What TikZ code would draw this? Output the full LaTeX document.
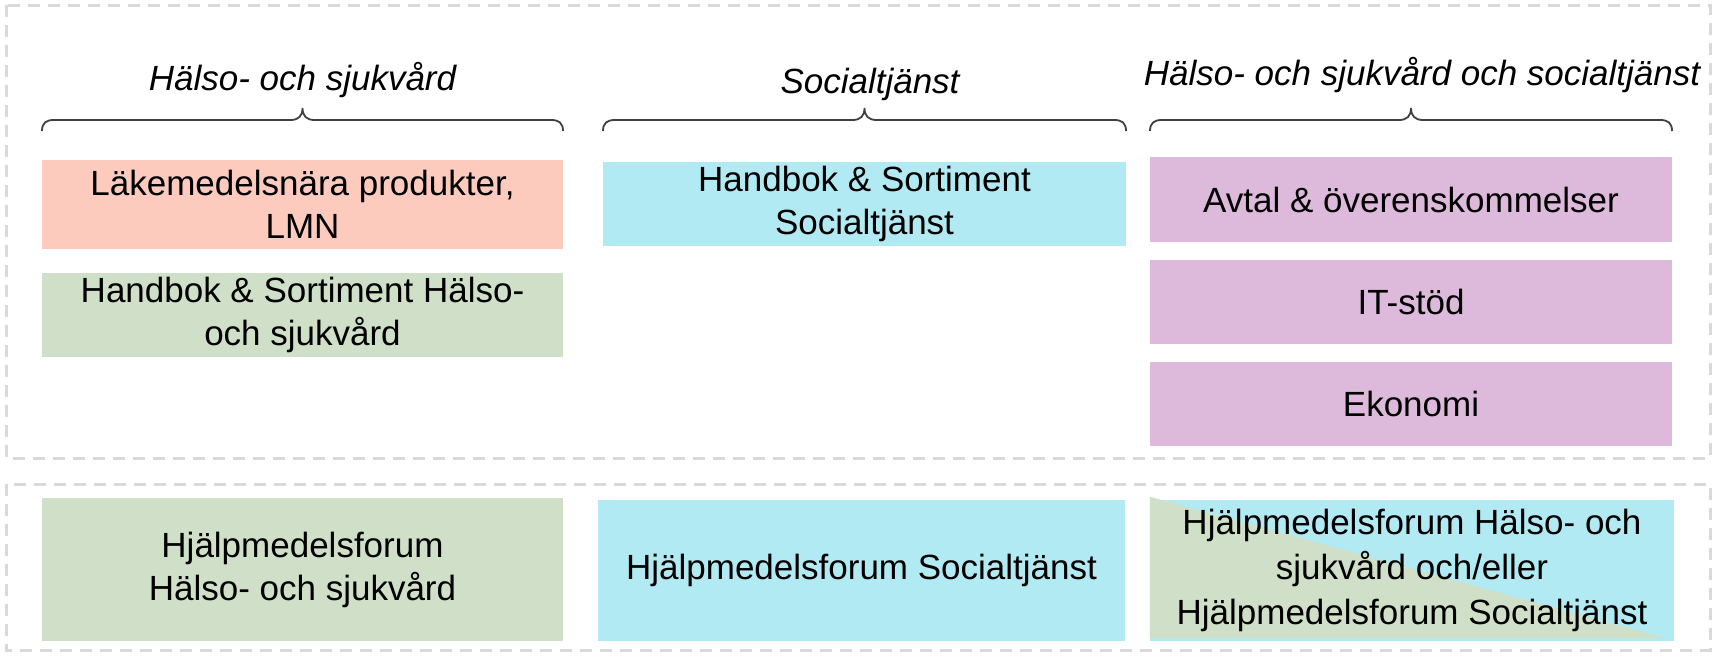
\documentclass[tikz,border=0pt]{standalone}
\usepackage{fontspec}
\setmainfont{Liberation Sans}
\usetikzlibrary{calc}
\definecolor{salmon}{HTML}{FCCBBE}
\definecolor{sage}{HTML}{D0DFC8}
\definecolor{aqua}{HTML}{B1EAF2}
\definecolor{lilac}{HTML}{DDBADB}
\definecolor{framegray}{HTML}{D9D9D9}
\definecolor{bracegray}{HTML}{404040}
\newcommand\colbrace[3]{%
  \draw[bracepath] (#1,131) .. controls (#1,123) and (#1+4,120) .. (#1+12,120)
    -- (#3-12,120) .. controls (#3-4,120) and (#3,116) .. (#3,108)
    .. controls (#3,116) and (#3+4,120) .. (#3+12,120)
    -- (#2-12,120) .. controls (#2-4,120) and (#2,123) .. (#2,131);}
\begin{document}
\begin{tikzpicture}[x=1pt,y=-1pt,
  frame/.style={draw=framegray, line width=3pt, dash pattern=on 12pt off 8pt},
  card/.style={rectangle, inner sep=0pt, align=center, font=\fontsize{35}{43}\selectfont, text=black},
  head/.style={inner sep=0pt, font=\fontsize{35}{42}\selectfont\itshape, anchor=base},
  bracepath/.style={draw=bracegray, line width=1.8pt}]
\useasboundingbox (0,0) rectangle (1716,656);
\fill[white] (0,0) rectangle (1716,656);
% frames
\draw[frame] (6,5) rectangle (1710,458);
\draw[frame] (6,484) rectangle (1710,650);
% headings
\node[head] (h1) at (302.5,90) {Hälso- och sjukvård};
\node[head] (h2) at (870,93) {Socialtjänst};
\node[head] (h3) at (1422,85) {Hälso- och sjukvård och socialtjänst};
% braces
\colbrace{42}{563}{302.5}
\colbrace{603}{1126}{864.5}
\colbrace{1150}{1672}{1411}
% top boxes
\node[card, fill=salmon, minimum width=521pt, minimum height=89pt] (lmn) at (302.5,204.5) {Läkemedelsnära produkter,\\LMN};
\node[card, fill=sage, minimum width=521pt, minimum height=84pt] (hbhs) at (302.5,315) {Handbok \& Sortiment Hälso-\\och sjukvård};
\node[card, fill=aqua, minimum width=523pt, minimum height=84pt] (hbst) at (864.5,204) {Handbok \& Sortiment\\Socialtjänst};
\node[card, fill=lilac, minimum width=522pt, minimum height=85pt] (avtal) at (1411,199.5) {Avtal \& överenskommelser};
\node[card, fill=lilac, minimum width=522pt, minimum height=84pt] (it) at (1411,302) {IT-stöd};
\node[card, fill=lilac, minimum width=522pt, minimum height=84pt] (eko) at (1411,404) {Ekonomi};
% bottom boxes
\node[card, fill=sage, minimum width=521pt, minimum height=143pt] (hfhs) at (302.5,569.5) {Hjälpmedelsforum\\Hälso- och sjukvård};
\node[card, fill=aqua, minimum width=527pt, minimum height=141pt] (hfst) at (861.5,570.5) {Hjälpmedelsforum Socialtjänst};
\node[card, fill=aqua, minimum width=524pt, minimum height=141pt] (hfb) at (1412,570.5) {};
\fill[sage] ($(hfb.north west)+(0,-3)$) -- ($(hfb.south west)+(0,-3)$) -- ($(hfb.south east)+(-9,-3)$) -- cycle;
\node[card, font=\fontsize{35}{45}\selectfont] (hfbtext) at (hfb.center) {Hjälpmedelsforum Hälso- och\\sjukvård och/eller\\Hjälpmedelsforum Socialtjänst};
\end{tikzpicture}
\end{document}
